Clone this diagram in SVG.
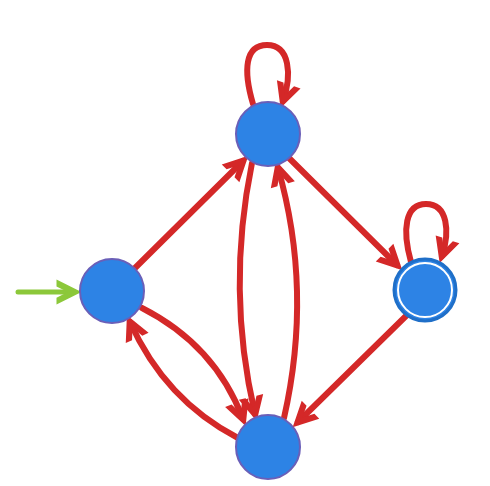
<svg xmlns="http://www.w3.org/2000/svg" width="490" height="486" viewBox="0 0 490 486">
<defs>
<marker id="ar" markerUnits="userSpaceOnUse" orient="auto" markerWidth="30" markerHeight="30" refX="0" refY="0" viewBox="-16 -12 24 24" overflow="visible">
<path d="M6,0 L-14,-10 L-14,-4.5 L-5,0 L-14,4.5 L-14,10 Z" fill="#d42828"/>
</marker>
<marker id="ag" markerUnits="userSpaceOnUse" orient="auto" markerWidth="30" markerHeight="30" refX="0" refY="0" viewBox="-16 -12 24 24" overflow="visible">
<path d="M6,0 L-14,-10 L-14,-4.5 L-5,0 L-14,4.5 L-14,10 Z" fill="#8cc83a"/>
</marker>
</defs>
<style>
.e{fill:none;stroke:#d42828;stroke-width:6;stroke-linecap:round;marker-end:url(#ar)}
.s{fill:none;stroke:#8cc83a;stroke-width:5;stroke-linecap:round;marker-end:url(#ag)}
.n{fill:#2d83e5;stroke:#6a5fb8;stroke-width:2}
</style>
<g id="connectors">
<path class="s" d="M18,292 L74,292"/>
<path class="e" d="M253,104 C243,70 245,45 267,45 C290,45 292,75 283,101"/>
<path class="e" d="M411,262 C402,230 405,204 426,204 C448,204 450,232 442,256"/>
<path class="e" d="M135,268 L243,161"/>
<path class="e" d="M289,158 L397,265"/>
<path class="e" d="M407,315 L298,422"/>
<path class="e" d="M252,163 Q226,290 255,414"/>
<path class="e" d="M284,418 Q313,290 278,168"/>
<path class="e" d="M142,308 Q215,345 243,419"/>
<path class="e" d="M238,438 Q165,400 130,322"/>
</g>
<g id="q0"><circle class="n" cx="112" cy="291" r="32"/></g>
<g id="q1"><circle class="n" cx="268" cy="134" r="32"/></g>
<g id="q3"><circle class="n" cx="268" cy="447" r="32"/></g>
<g id="q2"><circle cx="425" cy="290" r="31" fill="#2d83e5" stroke="#1f6fc8" stroke-width="3"/><circle cx="425" cy="290" r="27" fill="none" stroke="#ffffff" stroke-width="2"/></g>
</svg>
